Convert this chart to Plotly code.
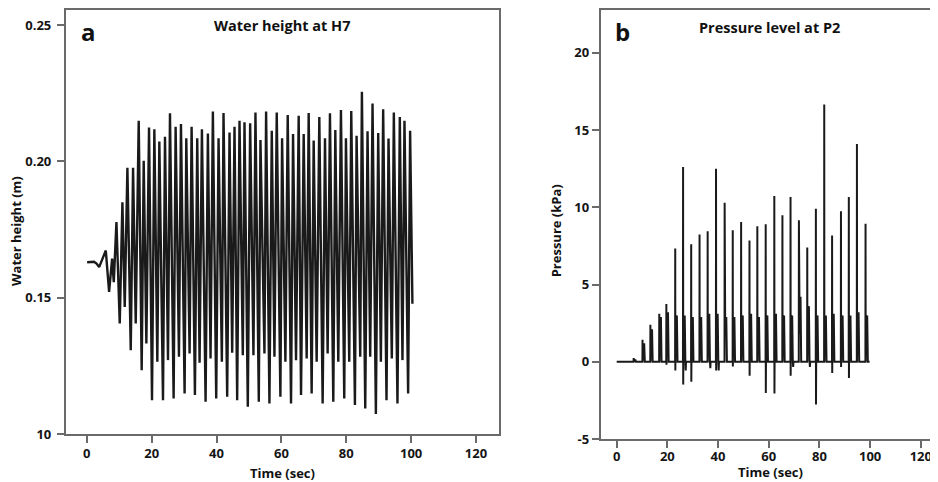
import plotly.graph_objects as go

# ---------------- Panel a: water height at H7 ----------------
early_t = [0.1, 2.2, 3.0, 3.8, 5.85, 6.87, 7.8, 8.31]
early_h = [0.1630, 0.1632, 0.1625, 0.1612, 0.1673, 0.1521, 0.1643, 0.1557]

peak_t = [9.13, 10.97, 12.51, 14.26, 16.0, 17.54, 19.18, 20.82, 22.36, 24.1, 25.64, 27.38,
          29.03, 30.67, 32.31, 34.05, 35.49, 37.33, 38.87, 40.62, 42.15, 44.0, 45.54, 47.08,
          48.62, 50.36, 52.0, 53.54, 55.28, 57.03, 58.56, 60.21, 61.95, 63.59, 65.33, 66.87,
          68.41, 69.95, 71.69, 73.44, 74.97, 76.62, 78.36, 79.9, 81.54, 83.18, 84.82, 86.56,
          88.1, 89.85, 91.38, 93.03, 94.67, 96.51, 97.95, 99.69]
peak_h = [0.1777, 0.1850, 0.1976, 0.1976, 0.2149, 0.2002, 0.2124, 0.2118, 0.2073, 0.2090,
          0.2176, 0.2127, 0.2137, 0.2085, 0.2127, 0.2085, 0.2118, 0.2102, 0.2183, 0.2085,
          0.2177, 0.2106, 0.2127, 0.2149, 0.2143, 0.2140, 0.2179, 0.2078, 0.2183, 0.2112,
          0.2179, 0.2085, 0.2170, 0.2100, 0.2167, 0.2100, 0.2177, 0.2076, 0.2163, 0.2085,
          0.2176, 0.2115, 0.2188, 0.2085, 0.2185, 0.2094, 0.2255, 0.2110, 0.2212, 0.2104,
          0.2191, 0.2084, 0.2179, 0.2163, 0.2149, 0.2112]

trough_t = [10.15, 11.69, 13.54, 15.08, 16.92, 18.36, 20.1, 21.74, 23.49, 25.03, 26.77, 28.41,
            30.15, 31.69, 33.33, 34.77, 36.62, 38.15, 39.9, 41.64, 43.28, 44.82, 46.36, 48.1,
            49.64, 51.38, 53.03, 54.77, 56.31, 57.85, 59.69, 61.23, 62.97, 64.51, 66.05, 67.79,
            69.33, 70.87, 72.72, 74.26, 76.0, 77.54, 79.38, 80.92, 82.67, 84.31, 85.85, 87.38,
            89.13, 90.67, 92.41, 94.05, 95.79, 97.33, 99.08, 100.4]
trough_h = [0.1405, 0.1466, 0.1307, 0.1405, 0.1234, 0.1332, 0.1124, 0.1265, 0.1124, 0.1271,
            0.1130, 0.1283, 0.1149, 0.1295, 0.1143, 0.1261, 0.1118, 0.1277, 0.1130, 0.1265,
            0.1137, 0.1298, 0.1124, 0.1289, 0.1100, 0.1289, 0.1118, 0.1295, 0.1112, 0.1283,
            0.1137, 0.1265, 0.1112, 0.1271, 0.1143, 0.1277, 0.1149, 0.1265, 0.1112, 0.1295,
            0.1118, 0.1265, 0.1130, 0.1265, 0.1106, 0.1283, 0.1094, 0.1283, 0.1073, 0.1265,
            0.1124, 0.1277, 0.1112, 0.1271, 0.1149, 0.1478]

a_yticks = [0.10, 0.15, 0.20, 0.25]
a_yticktext = ["10", "0.15", "0.20", "0.25"]
x_ticks = [0, 20, 40, 60, 80, 100, 120]
x_ticktext = ["0", "20", "40", "60", "80", "100", "120"]

# ---------------- Panel b: pressure at P2 ----------------
spike_t = [6.7, 10.2, 13.3, 16.8, 19.6, 23.1, 26.2, 29.4, 32.7, 35.9, 39.2, 42.6, 45.8, 49.1,
           52.4, 55.5, 58.8, 62.2, 65.4, 68.6, 71.9, 75.2, 78.6, 81.9, 85.0, 88.5, 91.6, 94.8, 98.2]
spike_p = [0.24, 1.42, 2.39, 3.1, 3.74, 7.33, 12.6, 7.61, 8.23, 8.45, 12.5, 10.3, 8.52, 9.05,
           7.85, 8.77, 8.9, 10.73, 9.48, 10.67, 9.16, 7.4, 9.91, 16.65, 8.17, 9.74, 10.67, 14.1, 8.94]
spike_dip = [0, 0, 0, 0, -0.19, -0.56, -1.48, -1.29, 0, 0, -0.56, 0, -0.3, 0,
             -0.9, 0, -2.02, -2.06, 0, -0.9, 0, 0, -2.77, 0, -0.73, -0.34, -1.05, 0, 0]
post_dip = [0, 0, 0, 0, 0, 0, -0.56, 0, 0, -0.41, -0.56, 0, 0, 0,
            0, 0, 0, 0, 0, -0.34, 0, -0.34, 0, 0, 0, 0, 0, 0, 0]
body_top = [0.15, 1.2, 2.1, 2.9, 3.2, 3.0, 3.0, 2.9, 2.9, 3.1, 3.1, 2.9, 2.9, 3.0,
            3.1, 2.9, 3.0, 3.1, 3.0, 3.0, 4.2, 3.6, 3.0, 3.0, 3.1, 3.0, 3.0, 3.2, 3.0]
body_mid = [0.1, 0.7, 1.2, 1.6, 1.8, 1.9, 1.8, 1.9, 2.0, 1.8, 1.9, 2.0, 1.8, 1.9,
            1.8, 2.0, 1.9, 1.8, 2.0, 1.9, 1.8, 1.9, 2.0, 1.8, 1.9, 2.0, 1.8, 1.9, 2.0]
b_yticks = [-5, 0, 5, 10, 15, 20]
b_yticktext = ["-5", "0", "5", "10", "15", "20"]
b_start, b_end = 0.0, 99.8

# assemble panel a series (time-ordered read points)
pts = list(zip(early_t, early_h)) + list(zip(peak_t, peak_h)) + list(zip(trough_t, trough_h))
pts.sort()
ax_t = [p[0] for p in pts]
ax_h = [p[1] for p in pts]

# assemble panel b series from the per-impact readings
bx, by = [b_start], [0.0]
for ts, pk, dp, pdp, bt, bm in zip(spike_t, spike_p, spike_dip, post_dip, body_top, body_mid):
    bx += [ts - 0.05, ts, ts + 0.05, ts + 0.2, ts + 0.45, ts + 0.65, ts + 0.9]
    by += [0.0, pk, dp, bt, bm, bt, 0.0]
    if pdp != 0:
        bx += [ts + 1.05, ts + 1.15]
        by += [pdp, 0.0]
bx.append(b_end)
by.append(0.0)

fig = go.Figure()
fig.add_trace(go.Scatter(x=ax_t, y=ax_h, mode="lines", line=dict(color="#1a1a1a", width=2.4),
                         xaxis="x", yaxis="y", showlegend=False, hoverinfo="skip"))
fig.add_trace(go.Scatter(x=bx, y=by, mode="lines", line=dict(color="#1a1a1a", width=2.0),
                         xaxis="x2", yaxis="y2", showlegend=False, hoverinfo="skip"))

# page body adds an 8px offset; figure is sized to fill the rest of the window
OFF = 8
W, H = 930, 474
MT, MB = 1, 43
PH = H - MT - MB
def px(x):
    return (x - OFF) / W
def py(y):
    return (H - MB - (y - OFF)) / PH

def bold(labels):
    return ["<b>" + s + "</b>" for s in labels]

FONT = "Open Sans, Arial, sans-serif"
tick_font = dict(family=FONT, size=13, color="#151515", weight="bold")
frame = "#6a6a6a"
axis_common = dict(showline=True, linecolor=frame, linewidth=2, mirror=True,
                   ticks="outside", ticklen=7, tickwidth=1.5, tickcolor=frame,
                   showgrid=False, zeroline=False, tickfont=tick_font)

fig.update_layout(
    width=W, height=H,
    margin=dict(l=0, r=0, t=MT, b=MB),
    paper_bgcolor="white", plot_bgcolor="white",
    font=dict(family=FONT),
    xaxis=dict(domain=[px(66), px(500)], range=[-6.46, 127.08], tickvals=x_ticks,
               ticktext=bold(x_ticktext), anchor="y", ticklabelstandoff=-1, **axis_common),
    yaxis=dict(domain=[py(434), 1.0], range=[0.10, 0.2555], tickvals=a_yticks,
               ticktext=bold(a_yticktext), anchor="x", ticklabelstandoff=3, **axis_common),
    xaxis2=dict(domain=[px(602), 1.0], range=[-6.3, 126.0], tickvals=x_ticks,
                ticktext=bold(x_ticktext), anchor="y2", ticklabelstandoff=-3, **axis_common),
    yaxis2=dict(domain=[0.0, 1.0], range=[-5, 22.77], tickvals=b_yticks,
                ticktext=bold(b_yticktext), anchor="x2", ticklabelstandoff=0, **axis_common),
)

anns = [
    dict(text="Water height at H7", x=px(283), y=py(25), size=14.5, angle=0),
    dict(text="Pressure level at P2", x=px(771), y=py(27), size=14.5, angle=0),
    dict(text="a", x=px(89), y=py(31), size=24, angle=0),
    dict(text="b", x=px(624), y=py(31), size=24, angle=0),
    dict(text="Water height (m)", x=px(16.5), y=py(230), size=13, angle=-90),
    dict(text="Pressure (kPa)", x=px(558), y=py(230), size=13, angle=-90),
    dict(text="Time (sec)", x=px(283), y=py(473), size=13, angle=0),
    dict(text="Time (sec)", x=px(772), y=py(472), size=13, angle=0),
]
for a in anns:
    fig.add_annotation(text="<b>" + a["text"] + "</b>", x=a["x"], y=a["y"],
                       xref="paper", yref="paper",
                       xanchor="center", yanchor="middle", showarrow=False,
                       textangle=a["angle"],
                       font=dict(family=FONT, size=a["size"], color="#111111"))

fig.write_html("out.html")
